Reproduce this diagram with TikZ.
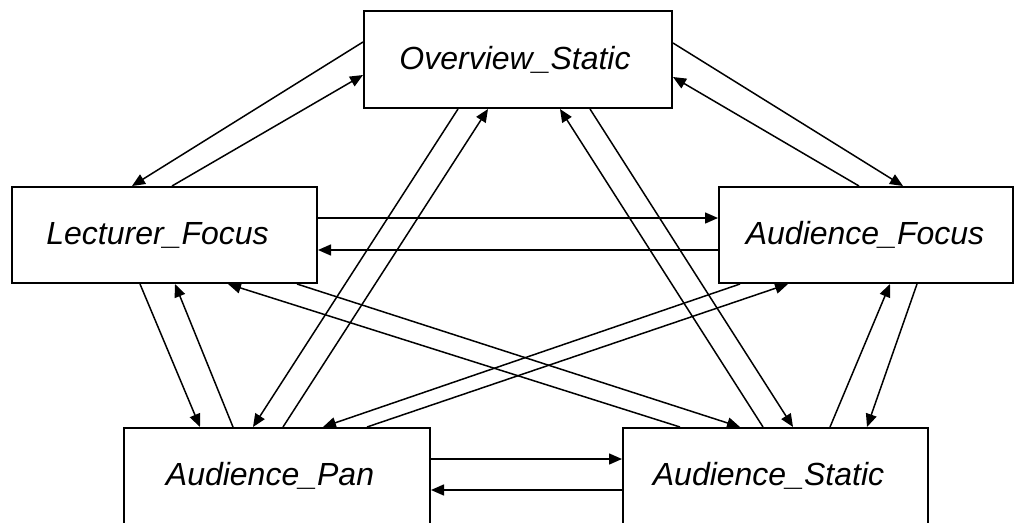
\documentclass[tikz,border=0pt]{standalone}
\usepackage{fontspec}
\setmainfont{Liberation Sans}
\usepackage{tikz}
\usetikzlibrary{arrows.meta}

\begin{document}
\begin{tikzpicture}[x=1pt,y=-1pt,
		box/.style={draw,line width=2pt,inner sep=0pt,anchor=north west,
			minimum height=96pt,font=\fontsize{32}{38}\selectfont\itshape},
		link/.style={line width=1.5pt,-{Triangle[length=13pt,width=11pt]}}]
	\clip (0,0) rectangle (1014,522);
	% the five views
	\node[box,minimum width=308pt,minimum height=97pt] (ovst) at (363,10) {Overview\_Static\hspace*{6pt}};
	\node[box,minimum width=305pt] (lefo) at (11,186) {Lecturer\_Focus\hspace*{14pt}};
	\node[box,minimum width=294pt] (aufo) at (718,186) {Audience\_Focus\hspace*{2pt}};
	\node[box,minimum width=306pt] (aupa) at (123,427) {Audience\_Pan\hspace*{14pt}};
	\node[box,minimum width=305pt] (aust) at (622,427) {Audience\_Static\hspace*{14pt}};
	% top box to the two side boxes
	\draw[link] ([yshift=-32pt]ovst.north west) -- ([xshift=121pt]lefo.north west);
	\draw[link] ([xshift=161pt]lefo.north west) -- ([yshift=-65pt]ovst.north west);
	\draw[link] ([yshift=-33pt]ovst.north east) -- ([xshift=185pt]aufo.north west);
	\draw[link] ([xshift=141pt]aufo.north west) -- ([yshift=-67pt]ovst.north east);
	% horizontal pairs
	\draw[link] ([yshift=-32pt]lefo.north east) -- ([yshift=-32pt]aufo.north west);
	\draw[link] ([yshift=-64pt]aufo.north west) -- ([yshift=-64pt]lefo.north east);
	\draw[link] ([yshift=-32pt]aupa.north east) -- ([yshift=-32pt]aust.north west);
	\draw[link] ([yshift=-63pt]aust.north west) -- ([yshift=-63pt]aupa.north east);
	% top box to the bottom boxes
	\draw[link] ([xshift=95pt]ovst.south west) -- ([xshift=130pt]aupa.north west);
	\draw[link] ([xshift=160pt]aupa.north west) -- ([xshift=125pt]ovst.south west);
	\draw[link] ([xshift=227pt]ovst.south west) -- ([xshift=171pt]aust.north west);
	\draw[link] ([xshift=141pt]aust.north west) -- ([xshift=197pt]ovst.south west);
	% side boxes to the bottom boxes
	\draw[link] ([xshift=129pt]lefo.south west) -- ([xshift=77pt]aupa.north west);
	\draw[link] ([xshift=110pt]aupa.north west) -- ([xshift=164pt]lefo.south west);
	\draw[link] ([xshift=286pt]lefo.south west) -- ([xshift=118pt]aust.north west);
	\draw[link] ([xshift=58pt]aust.north west) -- ([xshift=217pt]lefo.south west);
	\draw[link] ([xshift=22pt]aufo.south west) -- ([xshift=200pt]aupa.north west);
	\draw[link] ([xshift=244pt]aupa.north west) -- ([xshift=70pt]aufo.south west);
	\draw[link] ([xshift=208pt]aust.north west) -- ([xshift=172pt]aufo.south west);
	\draw[link] ([xshift=199pt]aufo.south west) -- ([xshift=245pt]aust.north west);
\end{tikzpicture}
\end{document}
